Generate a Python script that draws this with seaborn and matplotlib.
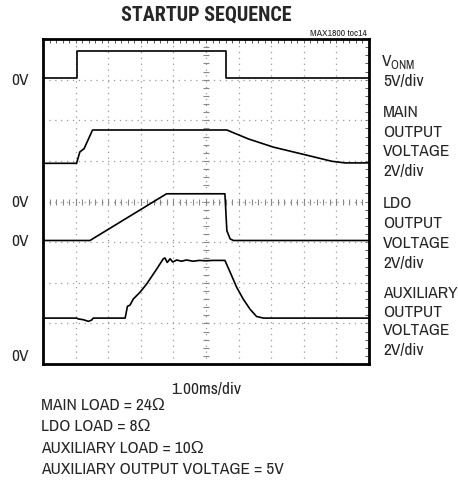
import numpy as np
import pandas as pd
import matplotlib
matplotlib.use("Agg")
import matplotlib.pyplot as plt
import seaborn as sns

# ---- data (x in ms, 1 ms/div; y in screen divisions from bottom) ----
t_vonm = [0.0, 1.03, 1.03, 5.60, 5.60, 10.0]
v_vonm = [7.04, 7.04, 7.71, 7.71, 7.04, 7.04]

t_main = [0.0, 1.03, 1.13, 1.26, 1.52, 5.64, 6.30, 7.06, 8.04, 8.86, 9.26, 10.0]
v_main = [4.94, 4.94, 5.22, 5.30, 5.76, 5.76, 5.54, 5.34, 5.15, 4.99, 4.95, 4.95]

t_ldo = [0.0, 1.44, 3.79, 5.58, 5.64, 5.74, 5.84, 10.0]
v_ldo = [3.04, 3.04, 4.19, 4.19, 3.28, 3.08, 3.04, 3.04]

t_aux = [0.0, 1.03, 1.08, 1.24, 1.39, 1.49, 1.54, 2.52, 2.59, 2.67, 2.77, 2.98, 3.18, 3.49,
         3.69, 3.74, 3.81, 3.90, 3.98, 4.10, 4.25, 4.40, 4.60, 4.80, 5.00, 5.20, 5.40, 5.58,
         5.74, 5.94, 6.14, 6.35, 6.55, 6.76, 10.0]
v_aux = [1.13, 1.13, 1.11, 1.09, 1.05, 1.08, 1.13, 1.13, 1.42, 1.45, 1.60, 1.77, 1.97, 2.34,
         2.59, 2.61, 2.50, 2.59, 2.51, 2.56, 2.53, 2.56, 2.53, 2.55, 2.54, 2.55, 2.55, 2.55,
         2.26, 1.89, 1.60, 1.35, 1.17, 1.13, 1.13]

zero_labels = ["0V", "0V", "0V", "0V"]
zero_levels = [7.04, 4.03, 3.08, 0.25]

right_labels = [["V$_{\\mathregular{ONM}}$", "5V/div"],
                ["MAIN", "OUTPUT", "VOLTAGE", "2V/div"],
                ["LDO", "OUTPUT", "VOLTAGE", "2V/div"],
                ["AUXILIARY", "OUTPUT", "VOLTAGE", "2V/div"]]
notes = ["MAIN LOAD = 24\u03a9", "LDO LOAD = 8\u03a9", "AUXILIARY LOAD = 10\u03a9",
         "AUXILIARY OUTPUT VOLTAGE = 5V"]

sns.set_style("white")
FONT = ["Archivo Narrow", "Liberation Sans", "DejaVu Sans"]
TITLE_FONT = ["Roboto Condensed", "DejaVu Sans"]
plt.rcParams["font.family"] = FONT
plt.rcParams["mathtext.fontset"] = "custom"
plt.rcParams["mathtext.rm"] = "Archivo Narrow"

W, H = 458, 481
fig = plt.figure(figsize=(W / 100, H / 100), dpi=100)
L, R, T, B = 43, 369, 40, 365
ax = fig.add_axes([L / W, 1 - B / H, (R - L) / W, (B - T) / H])
ax.set_xlim(0, 10)
ax.set_ylim(0, 8)

# grid
grid_kw = dict(color="#999999", lw=0.9, linestyle=(0, (1.0, 3.7)), zorder=1)
for gx in range(1, 10):
    ax.axvline(gx, **grid_kw)
for gy in range(1, 8):
    ax.axhline(gy, **grid_kw)
cx = np.arange(0, 10.01, 0.2)
cy = np.arange(0, 8.01, 0.2)
ax.plot(cx, np.full_like(cx, 4.0), ls="none", marker="|", ms=4, mew=0.8, color="#888888", zorder=1)
ax.plot(np.full_like(cy, 5.0), cy, ls="none", marker="_", ms=4, mew=0.8, color="#888888", zorder=1)

frames = []
for name, t, v in [("vonm", t_vonm, v_vonm), ("main", t_main, v_main),
                   ("ldo", t_ldo, v_ldo), ("aux", t_aux, v_aux)]:
    frames.append(pd.DataFrame({"t": t, "v": v, "trace": name}))
df = pd.concat(frames, ignore_index=True)
for name in ["vonm", "main", "ldo", "aux"]:
    sub = df[df.trace == name]
    sns.lineplot(data=sub, x="t", y="v", sort=False, estimator=None, ax=ax,
                 color="black", lw=1.2, legend=False, zorder=3)

ax.set_xlabel("")
ax.set_ylabel("")
ax.set_xticks(range(0, 11))
ax.set_yticks(range(0, 9))
ax.set_xticks(np.arange(0, 10.01, 0.2), minor=True)
ax.set_yticks(np.arange(0, 8.01, 0.2), minor=True)
ax.tick_params(which="both", direction="in", length=3, width=0.7, color="#555555",
               top=True, right=True, labelbottom=False, labelleft=False)
for s in ax.spines.values():
    s.set_linewidth(2.0)
    s.set_color("black")
    s.set_zorder(5)

def fy(px):
    return 1 - px / H

def fx(px):
    return px / W

fs = 12.5
CAPH = 6.0  # half cap height in px, to place baselines from measured centres

def put(x, yc, s, **kw):
    fig.text(fx(x), fy(yc + CAPH), s, va="baseline", fontsize=kw.pop("fontsize", fs), **kw)

fig.text(fx(206), fy(21), "STARTUP SEQUENCE", ha="center", va="baseline",
         fontsize=14.5, fontweight="bold", family=TITLE_FONT)
fig.text(fx(367), fy(36), "MAX1800 toc14", ha="right", va="baseline", fontsize=7)

for lab, lev in zip(zero_labels, zero_levels):
    ypx = B - lev * (B - T) / 8
    put(11, ypx, lab, ha="left")

right_pos = [[60, 80],
             [111, 130.7, 150.5, 170],
             [202.5, 222, 242, 261.7],
             [292, 310.7, 329.5, 349]]
for lines, ys in zip(right_labels, right_pos):
    for s, yy in zip(lines, ys):
        xx = 381 if s.startswith("V$") else 383
        put(xx, yy, s, ha="left")

put(206, 388, "1.00ms/div", ha="center")
for k, s in enumerate(notes):
    put(41, 404 + k * 21.3, s, ha="left")

fig.savefig("out.png", dpi=100)
